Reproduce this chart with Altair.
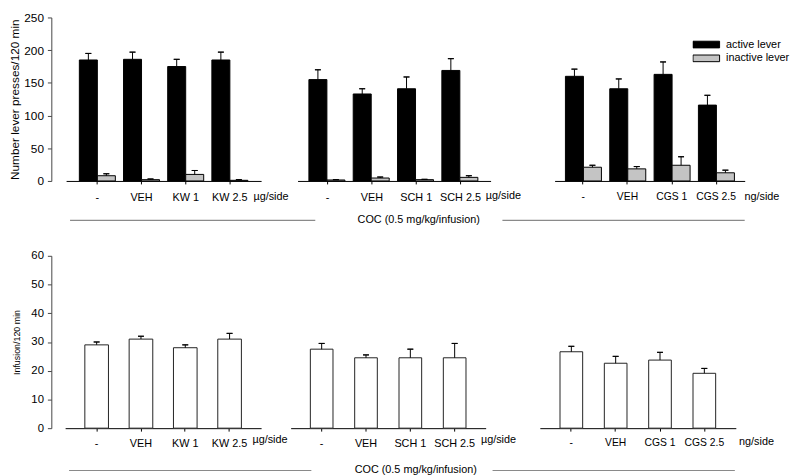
import altair as alt
import pandas as pd

FONT = "Liberation Sans"

# ---------------- data ----------------
levers = ["active lever", "inactive lever"]
lever_colors = ["#000000", "#c4c4c4"]

kw_groups = ["-", "VEH", "KW 1", "KW 2.5"]
sch_groups = ["-", "VEH", "SCH 1", "SCH 2.5"]
cgs_groups = ["-", "VEH", "CGS 1", "CGS 2.5"]

kw_active = [185, 186, 175, 185]
kw_active_sem = [10, 11, 11, 12]
kw_inactive = [8, 2, 10, 1]
kw_inactive_sem = [3, 1, 6, 1]

sch_active = [155, 133, 141, 169]
sch_active_sem = [15, 8, 18, 18]
sch_inactive = [1.5, 4.5, 2, 5.5]
sch_inactive_sem = [0.5, 1.5, 0.5, 2.5]

cgs_active = [160, 141, 163, 116]
cgs_active_sem = [11, 15, 19, 15]
cgs_inactive = [21, 18.5, 24, 12.5]
cgs_inactive_sem = [3, 3.5, 13, 4]

kw_inf = [29, 31, 28, 31]
kw_inf_sem = [1, 1, 1, 2]
sch_inf = [27.5, 24.5, 24.5, 24.5]
sch_inf_sem = [2, 1, 3, 5]
cgs_inf = [26.6, 22.6, 23.7, 19.1]
cgs_inf_sem = [1.9, 2.4, 2.7, 1.7]

units = ["µg/side", "µg/side", "ng/side"]
coc_label = "COC (0.5 mg/kg/infusion)"
top_y_title = "Number lever presses/120 min"
bottom_y_title = "Infusion/120 min"
top_y_ticks = [0, 50, 100, 150, 200, 250]
bottom_y_ticks = [0, 10, 20, 30, 40, 50, 60]

# ---------------- layout ----------------
COL_W = [229, 253, 210]
TOP_H = 166
BOT_H = 175
ROW_GAP = 76

top_ranges = [[1, 199], [7, 203], [15, 208]]
top_pad = [(0.185, 0.30), (0.156, 0.256), (0.2, 0.244)]
top_unit_pos = [(208.5, 16), (215.5, 15), (225, 16)]
bot_ranges = [[0, 199], [0, 198], [0, 199]]
bot_pad = [(0.467, 0.445), (0.489, 0.444), (0.489, 0.455)]
bot_unit_pos = [(207.5, 12), (210.5, 12), (219.5, 14)]
label_sizes = [11, 11, 10.5]

AX = "#444444"


def x_axis(unit, pos, size, pad):
    return alt.Axis(
        title=unit, labelAngle=0, tickSize=3, labelPadding=pad,
        labelFontSize=size, labelColor="black", domainColor="black",
        tickColor="black", titleX=pos[0], titleY=pos[1], titleAlign="center",
        titleBaseline="middle", titleFontSize=11, titleFontWeight="normal",
        titleColor="black", grid=False,
    )


def y_axis(values, title, label_size, title_size, title_pad):
    return alt.Axis(values=values, title=title, offset=14, tickSize=4,
                    labelPadding=4, labelFontSize=label_size, titleFontSize=title_size,
                    titleFontWeight="normal", titlePadding=title_pad, domainColor=AX,
                    tickColor=AX, labelColor="black", titleColor="black", grid=False)


def coc_layers(text_x, text_y, left, right):
    one = alt.Chart(pd.DataFrame({"label": [coc_label]}))
    txt = one.mark_text(font=FONT, fontSize=11, color="black").encode(
        text="label:N", x=alt.value(text_x), y=alt.value(text_y))
    r1 = one.mark_rule(color="#8a8a8a", strokeWidth=1.2).encode(
        x=alt.value(left[0]), x2=alt.value(left[1]), y=alt.value(text_y))
    r2 = one.mark_rule(color="#8a8a8a", strokeWidth=1.2).encode(
        x=alt.value(right[0]), x2=alt.value(right[1]), y=alt.value(text_y))
    return [txt, r1, r2]


def top_panel(i, groups, act, act_e, ina, ina_e, show_y, legend, extra=None):
    rows = []
    for g, a, ae, b, be in zip(groups, act, act_e, ina, ina_e):
        rows.append({"group": g, "lever": levers[0], "value": a, "hi": a + ae})
        rows.append({"group": g, "lever": levers[1], "value": b, "hi": b + be})
    df = pd.DataFrame(rows)
    pi, po = top_pad[i]
    xs = alt.Scale(domain=groups, range=top_ranges[i], paddingInner=pi, paddingOuter=po)
    ys = alt.Scale(domain=[0, 250], nice=False)
    xo = alt.XOffset("lever:N", scale=alt.Scale(domain=levers, paddingInner=0, paddingOuter=0))
    xax = x_axis(units[i], top_unit_pos[i], label_sizes[i], 8)
    yax = y_axis(top_y_ticks, top_y_title, 12, 12, 2) if show_y else None
    base = alt.Chart(df)
    bars = base.mark_bar(stroke="black", strokeWidth=1).encode(
        x=alt.X("group:N", scale=xs, axis=xax),
        xOffset=xo,
        y=alt.Y("value:Q", scale=ys, axis=yax),
        color=alt.Color("lever:N", scale=alt.Scale(domain=levers, range=lever_colors),
                        legend=legend),
    )
    stem = base.mark_bar(size=1, color="black").encode(
        x=alt.X("group:N", axis=xax), xOffset="lever:N",
        y=alt.Y("value:Q", axis=yax), y2="hi:Q")
    cap = base.mark_bar(size=6, fill="white", fillOpacity=0, stroke="black", strokeWidth=1).encode(
        x=alt.X("group:N", axis=xax), xOffset="lever:N",
        y=alt.Y("hi:Q", axis=yax), y2="hi:Q")
    layers = [bars, stem, cap]
    if extra:
        layers += extra
    return alt.layer(*layers).properties(width=COL_W[i], height=TOP_H)


def bottom_panel(i, groups, vals, errs, show_y, extra=None):
    df = pd.DataFrame({"group": groups, "value": vals,
                       "hi": [v + e for v, e in zip(vals, errs)]})
    pi, po = bot_pad[i]
    xs = alt.Scale(domain=groups, range=bot_ranges[i], paddingInner=pi, paddingOuter=po)
    ys = alt.Scale(domain=[0, 60], nice=False)
    xax = x_axis(units[i], bot_unit_pos[i], label_sizes[i], 7)
    yax = y_axis(bottom_y_ticks, bottom_y_title, 11.5, 9, 10) if show_y else None
    base = alt.Chart(df)
    bars = base.mark_bar(fill="white", stroke="#222222", strokeWidth=1).encode(
        x=alt.X("group:N", scale=xs, axis=xax),
        y=alt.Y("value:Q", scale=ys, axis=yax),
    )
    stem = base.mark_bar(size=1, color="black").encode(
        x=alt.X("group:N", axis=xax), y=alt.Y("value:Q", axis=yax), y2="hi:Q")
    cap = base.mark_bar(size=6, fill="white", fillOpacity=0, stroke="black", strokeWidth=1).encode(
        x=alt.X("group:N", axis=xax), y=alt.Y("hi:Q", axis=yax), y2="hi:Q")
    layers = [bars, stem, cap]
    if extra:
        layers += extra
    return alt.layer(*layers).properties(width=COL_W[i], height=BOT_H)


legend = alt.Legend(
    title=None, orient="none", legendX=637, legendY=22,
    symbolType="M-1,-0.25H1V0.25H-1Z", symbolSize=729,
    symbolStrokeColor="black", symbolStrokeWidth=1,
    labelFontSize=11, labelFont=FONT, labelColor="black",
    labelOffset=6, rowPadding=2, padding=0, clipHeight=11,
)

t1 = top_panel(0, kw_groups, kw_active, kw_active_sem, kw_inactive, kw_inactive_sem, True, legend)
t2 = top_panel(1, sch_groups, sch_active, sch_active_sem, sch_inactive, sch_inactive_sem, False, legend,
               extra=coc_layers(130, TOP_H + 40, (-224, 25), (215, 461)))
t3 = top_panel(2, cgs_groups, cgs_active, cgs_active_sem, cgs_inactive, cgs_inactive_sem, False, legend)

b1 = bottom_panel(0, kw_groups, kw_inf, kw_inf_sem, True)
b2 = bottom_panel(1, sch_groups, sch_inf, sch_inf_sem, False,
                  extra=coc_layers(127, BOT_H + 43, (-225, 21), (205, 451)))
b3 = bottom_panel(2, cgs_groups, cgs_inf, cgs_inf_sem, False)

chart = alt.concat(
    t1, t2, t3, b1, b2, b3, columns=3, bounds="flush", align="each",
    spacing={"row": ROW_GAP, "column": 0},
).configure(
    font=FONT, padding=0,
).configure_view(stroke=None).configure_axis(grid=False)

chart.save("out.html", embed_options={"renderer": "svg", "actions": False})
